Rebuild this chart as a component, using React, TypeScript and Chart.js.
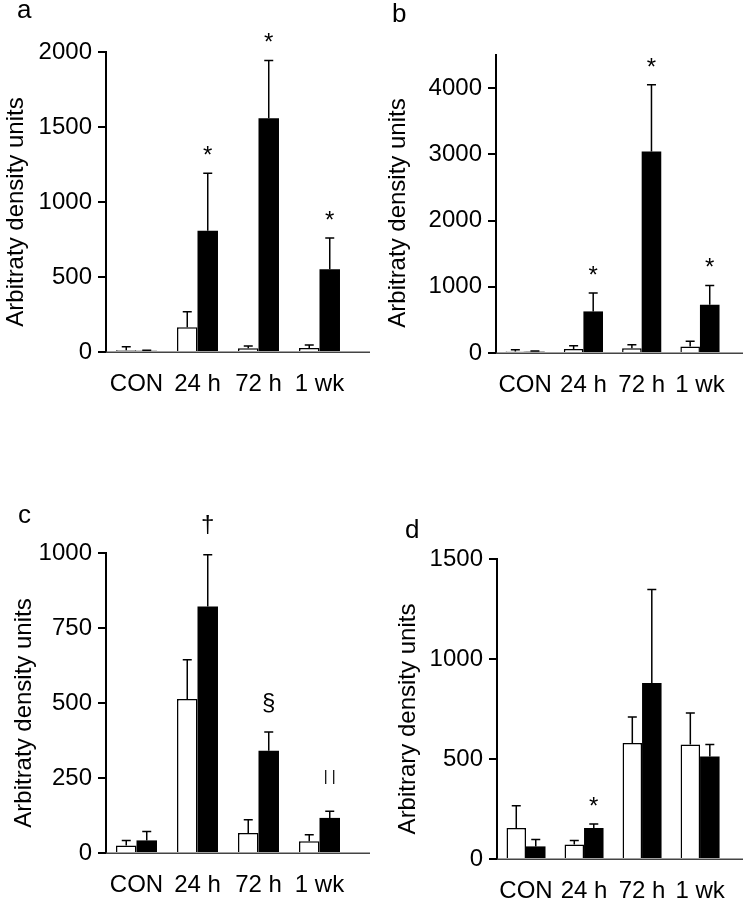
import React, { useEffect, useRef } from 'react';
import { Chart, registerables } from 'chart.js';

Chart.register(...registerables);

// ---------- data ----------
const categories = ['CON', '24 h', '72 h', '1 wk'];

const aControl = [11, 165, 25, 27];
const aControlSem = [24, 104, 15, 20];
const aTreated = [8, 809, 1558, 551];
const aTreatedSem = [3, 382, 386, 209];
const aMarks = ['', '*', '*', '*'];
const aTicks = [0, 500, 1000, 1500, 2000];

const bControl = [24, 60, 70, 100];
const bControlSem = [26, 50, 55, 76];
const bTreated = [20, 628, 3043, 729];
const bTreatedSem = [10, 278, 1007, 291];
const bMarks = ['', '*', '*', '*'];
const bTicks = [0, 1000, 2000, 3000, 4000];

const cControl = [25, 513, 67, 39];
const cControlSem = [17, 131, 44, 22];
const cTreated = [42, 822, 341, 117];
const cTreatedSem = [30, 172, 62, 22];
const cMarks = ['', '†', '§', '||'];
const cTicks = [0, 250, 500, 750, 1000];

const dControl = [155, 72, 580, 572];
const dControlSem = [111, 21, 130, 158];
const dTreated = [63, 155, 880, 513];
const dTreatedSem = [34, 20, 467, 59];
const dMarks = ['', '*', '', ''];
const dTicks = [0, 500, 1000, 1500];

const FONT = '"Liberation Sans", Arial, Helvetica, sans-serif';

type PanelCfg = {
  letter: string;
  yLabel: string;
  control: number[];
  controlSem: number[];
  treated: number[];
  treatedSem: number[];
  marks: string[];
  ticks: number[];
  yMax: number;
  left: number;
  top: number;
  w: number;
  h: number;
  axisX: number;
  topY: number;
  bottomY: number;
  labelX: number;
  letterX: number;
  letterY: number;
};

const markStyle: Record<string, { size: number; dy: number; spacing: number }> = {
  '*': { size: 24, dy: 10, spacing: 0 },
  '†': { size: 24, dy: 23, spacing: 0 },
  '§': { size: 24, dy: 22, spacing: 0 },
  '||': { size: 15, dy: 30, spacing: 4 },
};

function Panel({ cfg }: { cfg: PanelCfg }) {
  const ref = useRef<HTMLCanvasElement | null>(null);
  useEffect(() => {
    if (!ref.current) return;
    const sems = [cfg.controlSem, cfg.treatedSem];
    const decor = {
      id: 'decor',
      beforeDatasetsDraw(chart: any) {
        const ctx = chart.ctx;
        const ca = chart.chartArea;
        ctx.save();
        ctx.strokeStyle = '#444';
        ctx.lineWidth = 1.5;
        ctx.beginPath();
        ctx.moveTo(ca.left, ca.bottom + 0.25);
        ctx.lineTo(ca.right + 20, ca.bottom + 0.25);
        ctx.stroke();
        ctx.restore();
      },
      afterDatasetsDraw(chart: any) {
        const ctx = chart.ctx;
        const ys = chart.scales.y;
        ctx.save();
        ctx.strokeStyle = '#000';
        ctx.lineWidth = 1.5;
        chart.data.datasets.forEach((ds: any, di: number) => {
          const meta = chart.getDatasetMeta(di);
          meta.data.forEach((el: any, i: number) => {
            const v = ds.data[i];
            const top = ys.getPixelForValue(v + sems[di][i]);
            ctx.beginPath();
            ctx.moveTo(el.x, el.y);
            ctx.lineTo(el.x, top);
            ctx.moveTo(el.x - 4.5, top);
            ctx.lineTo(el.x + 4.5, top);
            ctx.stroke();
            if (di === 1 && cfg.marks[i]) {
              const m = cfg.marks[i];
              const st = markStyle[m] || { size: 24, dy: 10, spacing: 0 };
              ctx.fillStyle = '#000';
              ctx.font = `${st.size}px ${FONT}`;
              (ctx as any).letterSpacing = `${st.spacing}px`;
              ctx.textAlign = 'center';
              ctx.textBaseline = 'alphabetic';
              ctx.fillText(m, el.x + st.spacing / 2, top - st.dy);
              (ctx as any).letterSpacing = '0px';
            }
          });
        });
        ctx.restore();
      },
      afterDraw(chart: any) {
        const ctx = chart.ctx;
        const ca = chart.chartArea;
        ctx.save();
        ctx.fillStyle = '#000';
        ctx.font = `26px ${FONT}`;
        ctx.textAlign = 'left';
        ctx.textBaseline = 'alphabetic';
        ctx.fillText(cfg.letter, cfg.letterX, cfg.letterY);
        ctx.translate(cfg.labelX, ca.bottom - 140);
        ctx.rotate(-Math.PI / 2);
        ctx.font = `24px ${FONT}`;
        ctx.textAlign = 'center';
        ctx.textBaseline = 'middle';
        ctx.fillText(cfg.yLabel, 0, 0);
        ctx.restore();
      },
    };

    const chart = new Chart(ref.current, {
      type: 'bar',
      data: {
        labels: categories,
        datasets: [
          {
            label: 'control',
            data: cfg.control,
            backgroundColor: '#fff',
            borderColor: '#000',
            borderWidth: 1.5,
            categoryPercentage: 0.672,
            barPercentage: 1.0,
          },
          {
            label: 'treated',
            data: cfg.treated,
            backgroundColor: '#000',
            borderColor: '#000',
            borderWidth: 0,
            categoryPercentage: 0.672,
            barPercentage: 1.0,
          },
        ],
      },
      options: {
        responsive: false,
        animation: false,
        devicePixelRatio: 1,
        layout: {
          padding: {
            left: 0,
            right: cfg.w - cfg.axisX - 244,
            top: cfg.topY,
            bottom: 0,
          },
        },
        plugins: {
          legend: { display: false },
          tooltip: { enabled: false },
        },
        scales: {
          x: {
            grid: { display: false, drawTicks: false },
            border: { display: false },
            ticks: {
              color: '#000',
              font: { family: FONT, size: 24 },
              padding: 18,
              maxRotation: 0,
              autoSkip: false,
            },
            afterFit: (s: any) => {
              s.height = cfg.h - cfg.bottomY;
            },
          },
          y: {
            min: 0,
            max: cfg.yMax,
            grid: {
              display: true,
              drawOnChartArea: false,
              drawTicks: true,
              tickLength: 8,
              color: '#000',
              lineWidth: 2,
            },
            border: { display: true, color: '#000', width: 2 },
            ticks: {
              color: '#000',
              font: { family: FONT, size: 24 },
              padding: 6,
              callback: (v: any) => String(v),
            },
            afterBuildTicks: (s: any) => {
              s.ticks = cfg.ticks.map((v) => ({ value: v }));
            },
            afterFit: (s: any) => {
              s.width = cfg.axisX;
            },
          },
        },
      },
      plugins: [decor],
    } as any);
    return () => chart.destroy();
  }, [cfg]);

  return (
    <canvas
      ref={ref}
      width={cfg.w}
      height={cfg.h}
      style={{ position: 'absolute', left: cfg.left, top: cfg.top, width: cfg.w, height: cfg.h }}
    />
  );
}

const panels: PanelCfg[] = [
  {
    letter: 'a', yLabel: 'Arbitraty density units',
    control: aControl, controlSem: aControlSem, treated: aTreated, treatedSem: aTreatedSem,
    marks: aMarks, ticks: aTicks, yMax: 2000,
    left: 0, top: 0, w: 372, h: 430, axisX: 106, topY: 52, bottomY: 352,
    labelX: 16, letterX: 17, letterY: 18,
  },
  {
    letter: 'b', yLabel: 'Arbitraty density units',
    control: bControl, controlSem: bControlSem, treated: bTreated, treatedSem: bTreatedSem,
    marks: bMarks, ticks: bTicks, yMax: 4500,
    left: 372, top: 0, w: 371, h: 430, axisX: 124, topY: 55, bottomY: 353,
    labelX: 26.5, letterX: 20, letterY: 22,
  },
  {
    letter: 'c', yLabel: 'Arbitraty density units',
    control: cControl, controlSem: cControlSem, treated: cTreated, treatedSem: cTreatedSem,
    marks: cMarks, ticks: cTicks, yMax: 1000,
    left: 0, top: 430, w: 372, h: 469, axisX: 106, topY: 123, bottomY: 423,
    labelX: 24, letterX: 18, letterY: 93,
  },
  {
    letter: 'd', yLabel: 'Arbitrary density units',
    control: dControl, controlSem: dControlSem, treated: dTreated, treatedSem: dTreatedSem,
    marks: dMarks, ticks: dTicks, yMax: 1500,
    left: 372, top: 430, w: 371, h: 469, axisX: 125, topY: 129, bottomY: 429,
    labelX: 36.5, letterX: 33, letterY: 108,
  },
];

export default function App() {
  return (
    <div style={{ position: 'absolute', left: 0, top: 0, width: 743, height: 899, background: '#fff', overflow: 'hidden' }}>
      {panels.map((p) => (
        <Panel key={p.letter} cfg={p} />
      ))}
    </div>
  );
}
